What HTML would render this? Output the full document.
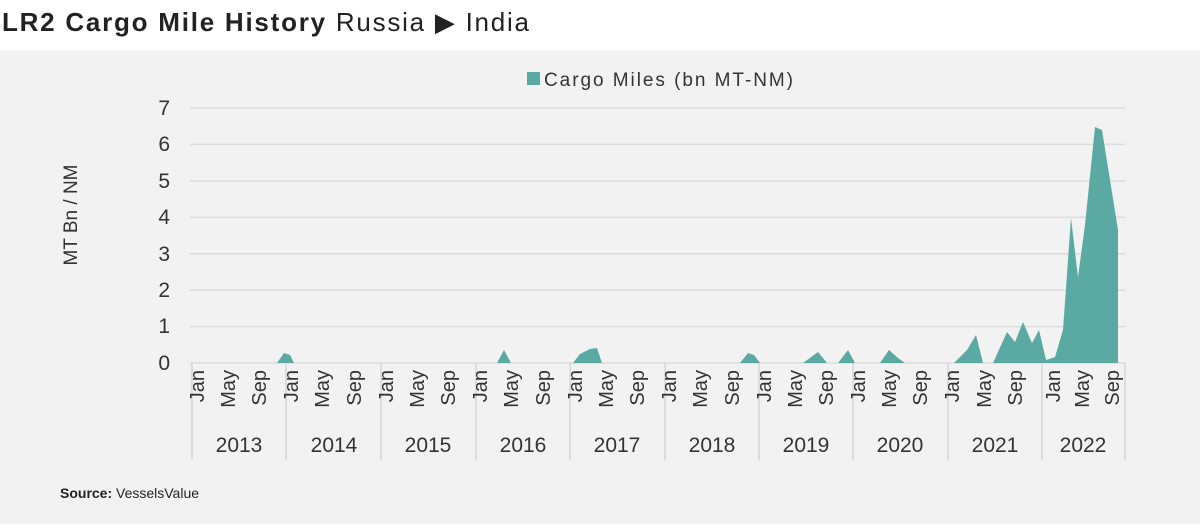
<!DOCTYPE html>
<html><head><meta charset="utf-8"><style>
body{margin:0;width:1200px;height:524px;overflow:hidden;background:#fff;font-family:"Liberation Sans",sans-serif}
</style></head><body>
<svg width="1200" height="524" xmlns="http://www.w3.org/2000/svg" font-family="Liberation Sans, sans-serif">
<rect x="0" y="0" width="1200" height="524" fill="#fff"/>
<rect x="0" y="50" width="1200" height="474" fill="#f2f2f2"/>
<text x="2" y="31" font-size="26" fill="#222" textLength="527" lengthAdjust="spacing"><tspan font-weight="bold">LR2 Cargo Mile History</tspan> Russia ▶ India</text>
<rect x="527" y="72" width="13" height="13" fill="#5aaaa3"/>
<text x="544" y="86" font-size="19" fill="#333" textLength="249" lengthAdjust="spacing">Cargo Miles (bn MT-NM)</text>
<g stroke="#dcdcdc" stroke-width="1.5">
<line x1="190" x2="1125" y1="108" y2="108"/><line x1="190" x2="1125" y1="144.4" y2="144.4"/>
<line x1="190" x2="1125" y1="180.9" y2="180.9"/><line x1="190" x2="1125" y1="217.3" y2="217.3"/>
<line x1="190" x2="1125" y1="253.7" y2="253.7"/><line x1="190" x2="1125" y1="290.1" y2="290.1"/>
<line x1="190" x2="1125" y1="326.6" y2="326.6"/><line x1="190" x2="1125" y1="363" y2="363"/>
</g>
<g font-size="21" fill="#333" text-anchor="end">
<text x="170" y="115">7</text><text x="170" y="151">6</text><text x="170" y="188">5</text><text x="170" y="224">4</text>
<text x="170" y="261">3</text><text x="170" y="297">2</text><text x="170" y="333">1</text><text x="170" y="370">0</text>
</g>
<text transform="translate(77,215) rotate(-90)" font-size="19" fill="#333" text-anchor="middle">MT Bn / NM</text>
<g fill="#5aaaa3">
<polygon points="277,363 284,353 290,355 294,363"/>
<polygon points="497,363 504,350 511,363"/>
<polygon points="573,363 580,354 590,349 597,348 602,363"/>
<polygon points="740,363 748,353 754,355 760,363"/>
<polygon points="803,363 818,352 827,363"/>
<polygon points="838,363 848,350 855,363"/>
<polygon points="880,363 889,350 898,358 905,363"/>
<polygon points="954,363 967,350 976,335 983,363 993,363 1007,332 1015,342 1023,322 1032,343 1039,330 1046,360 1055,357 1063,330 1071,218 1078,277 1085,225 1095,127 1102,130 1118,230 1118,363"/>
</g>
<g stroke="#cfcfcf" stroke-width="1.2">
<line x1="192" x2="192" y1="363" y2="460"/><line x1="286" x2="286" y1="363" y2="460"/>
<line x1="381" x2="381" y1="363" y2="460"/><line x1="476" x2="476" y1="363" y2="460"/>
<line x1="570" x2="570" y1="363" y2="460"/><line x1="665" x2="665" y1="363" y2="460"/>
<line x1="759" x2="759" y1="363" y2="460"/><line x1="853" x2="853" y1="363" y2="460"/>
<line x1="948" x2="948" y1="363" y2="460"/><line x1="1042" x2="1042" y1="363" y2="460"/>
<line x1="1125" x2="1125" y1="363" y2="460"/>
</g>
<g font-size="20" fill="#333" text-anchor="end">
<text transform="translate(204,370) rotate(-90)">Jan</text><text transform="translate(235,370) rotate(-90)">May</text><text transform="translate(266,370) rotate(-90)">Sep</text>
<text transform="translate(298,370) rotate(-90)">Jan</text><text transform="translate(329,370) rotate(-90)">May</text><text transform="translate(361,370) rotate(-90)">Sep</text>
<text transform="translate(393,370) rotate(-90)">Jan</text><text transform="translate(424,370) rotate(-90)">May</text><text transform="translate(455,370) rotate(-90)">Sep</text>
<text transform="translate(487,370) rotate(-90)">Jan</text><text transform="translate(518,370) rotate(-90)">May</text><text transform="translate(550,370) rotate(-90)">Sep</text>
<text transform="translate(582,370) rotate(-90)">Jan</text><text transform="translate(613,370) rotate(-90)">May</text><text transform="translate(644,370) rotate(-90)">Sep</text>
<text transform="translate(676,370) rotate(-90)">Jan</text><text transform="translate(707,370) rotate(-90)">May</text><text transform="translate(739,370) rotate(-90)">Sep</text>
<text transform="translate(771,370) rotate(-90)">Jan</text><text transform="translate(802,370) rotate(-90)">May</text><text transform="translate(833,370) rotate(-90)">Sep</text>
<text transform="translate(865,370) rotate(-90)">Jan</text><text transform="translate(896,370) rotate(-90)">May</text><text transform="translate(927,370) rotate(-90)">Sep</text>
<text transform="translate(959,370) rotate(-90)">Jan</text><text transform="translate(991,370) rotate(-90)">May</text><text transform="translate(1022,370) rotate(-90)">Sep</text>
<text transform="translate(1060,370) rotate(-90)">Jan</text><text transform="translate(1089,370) rotate(-90)">May</text><text transform="translate(1119,370) rotate(-90)">Sep</text>
</g>
<g font-size="21" fill="#333" text-anchor="middle">
<text x="239" y="452">2013</text><text x="334" y="452">2014</text><text x="428" y="452">2015</text>
<text x="523" y="452">2016</text><text x="617" y="452">2017</text><text x="712" y="452">2018</text>
<text x="806" y="452">2019</text><text x="900" y="452">2020</text><text x="995" y="452">2021</text>
<text x="1083" y="452">2022</text>
</g>
<text x="60" y="498" font-size="14" fill="#222"><tspan font-weight="bold">Source:</tspan> VesselsValue</text>
</svg>
</body></html>
